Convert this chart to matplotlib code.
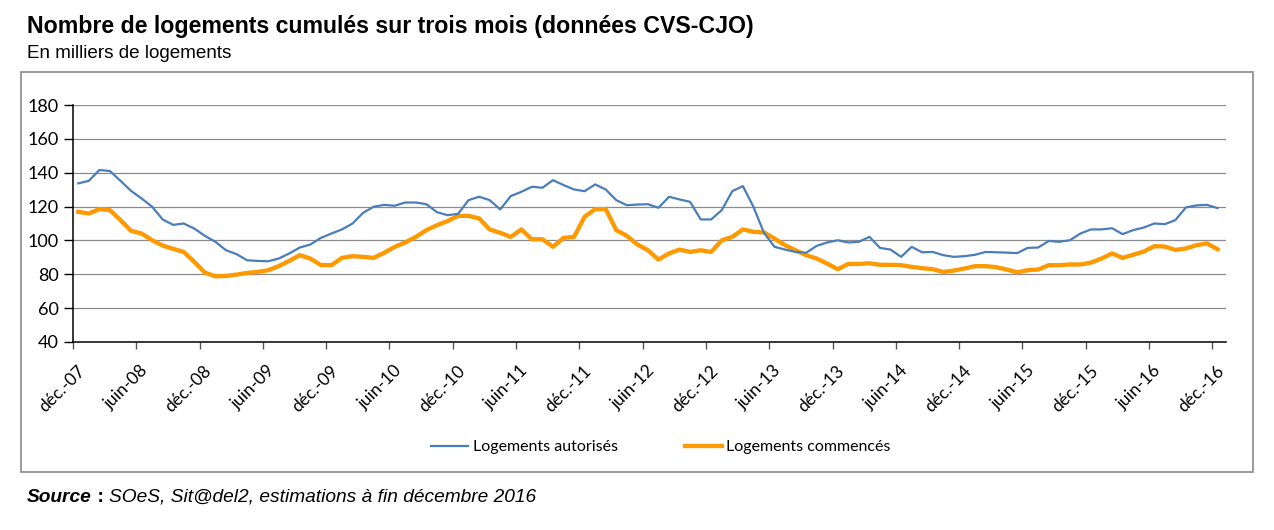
import matplotlib
matplotlib.use("Agg")
import matplotlib.pyplot as plt
from matplotlib.patches import Rectangle
from matplotlib.transforms import ScaledTranslation
import numpy as np

# tick labels every 6 months, déc.-07 .. déc.-16
tick_labels = ["déc.-07", "juin-08", "déc.-08", "juin-09", "déc.-09", "juin-10",
               "déc.-10", "juin-11", "déc.-11", "juin-12", "déc.-12", "juin-13",
               "déc.-13", "juin-14", "déc.-14", "juin-15", "déc.-15", "juin-16",
               "déc.-16"]

# monthly values, déc. 2007 -> déc. 2016 (thousands)
autorises = [133.7, 135.2, 141.6, 141.0, 135.2, 129.3, 124.8, 119.9, 112.4, 109.2,
             110.0, 107.0, 102.7, 99.2, 94.2, 91.9, 88.3, 87.9, 87.7, 89.3,
             92.3, 95.8, 97.6, 101.5, 104.1, 106.5, 110.0, 116.3, 119.9, 121.0,
             120.5, 122.4, 122.4, 121.4, 116.7, 114.9, 115.7, 123.8, 125.8, 123.8,
             118.3, 126.2, 128.7, 131.7, 131.1, 135.6, 132.7, 130.1, 129.1, 133.1,
             130.1, 123.8, 120.8, 121.2, 121.4, 119.3, 125.8, 124.2, 122.8, 112.4,
             112.4, 117.9, 129.1, 132.1, 119.9, 104.5, 96.2, 94.6, 93.2, 92.7,
             96.8, 98.8, 100.1, 98.8, 99.2, 102.1, 95.6, 94.6, 90.3, 96.2,
             93.0, 93.2, 91.3, 90.3, 90.7, 91.5, 93.2, 93.0, 92.8, 92.5,
             95.6, 95.8, 99.7, 99.2, 100.1, 104.1, 106.5, 106.5, 107.2, 103.7,
             106.1, 107.6, 110.0, 109.6, 112.0, 119.5, 120.7, 121.0, 119.1]

commences = [116.9, 115.9, 118.5, 117.9, 112.0, 105.7, 104.1, 100.1, 97.0, 95.0,
             93.2, 87.3, 81.0, 78.8, 79.0, 79.8, 80.8, 81.4, 82.4, 84.8,
             87.9, 91.3, 89.3, 85.4, 85.4, 89.7, 90.7, 90.3, 89.7, 92.7,
             96.2, 98.8, 102.1, 106.1, 109.0, 111.4, 114.5, 114.5, 113.0, 106.5,
             104.5, 102.1, 106.5, 100.7, 100.7, 96.2, 101.5, 102.1, 114.0, 118.5,
             118.5, 106.1, 102.7, 97.6, 94.2, 88.7, 92.3, 94.6, 93.2, 94.2,
             93.2, 100.1, 102.1, 106.5, 105.1, 104.7, 101.1, 97.2, 94.2, 91.3,
             89.3, 86.3, 83.0, 86.1, 86.1, 86.5, 85.6, 85.6, 85.4, 84.4,
             83.6, 83.0, 81.4, 82.2, 83.4, 84.8, 84.8, 84.2, 82.8, 81.2,
             82.4, 82.8, 85.4, 85.4, 85.8, 85.8, 86.9, 89.3, 92.3, 89.7,
             91.5, 93.4, 96.6, 96.4, 94.4, 95.2, 97.2, 98.2, 94.8]

n = len(autorises)
x = np.arange(n) + 0.5
tick_pos = np.arange(0, n, 6)

W, H = 1274, 530
fig = plt.figure(figsize=(W / 100, H / 100), dpi=100, facecolor="white")
fam_axis = ["Lato", "DejaVu Sans"]
fam_text = ["Liberation Sans", "DejaVu Sans"]

# outer frame of the chart
fig.patches.append(Rectangle((21 / W, 1 - 472 / H), (1253 - 21) / W, (472 - 72) / H,
                             transform=fig.transFigure, fill=False,
                             edgecolor="#8a8a8a", linewidth=1.2))

ax = fig.add_axes([73 / W, 1 - 342 / H, (1226 - 73) / W, (342 - 105) / H])

ax.plot(x, autorises, color="#4a7ebb", linewidth=1.6, label="Logements autorisés",
        zorder=4)
ax.plot(x, commences, color="#ff9900", linewidth=3.1, label="Logements commencés",
        zorder=3)

ax.set_xlim(0, n + 0.3)
ax.set_ylim(40, 180)
ax.set_yticks(np.arange(40, 181, 20))
for v in range(60, 181, 20):
    ax.axhline(v, color="#8c8c8c", linewidth=0.9, zorder=1)

ax.set_xticks(tick_pos)
ax.set_xticklabels(tick_labels, rotation=45, ha="right", rotation_mode="anchor",
                   family=fam_axis, fontsize=12.5)
ax.tick_params(axis="x", length=5, width=1, color="#555555", pad=7)
ax.tick_params(axis="y", length=6.5, width=1, pad=4, labelsize=13)
for lab in ax.get_yticklabels():
    lab.set_family(fam_axis)
# nudge the rotated labels a little right and down
shift = ScaledTranslation(4 / 100, -4 / 100, fig.dpi_scale_trans)
for lab in ax.get_xticklabels():
    lab.set_transform(lab.get_transform() + shift)

for side in ["top", "right"]:
    ax.spines[side].set_visible(False)
ax.spines["left"].set_linewidth(1.1)
ax.spines["bottom"].set_linewidth(1.1)

fig.legend(loc="center", bbox_to_anchor=(661 / W, 1 - 447 / H), ncol=2,
           frameon=False, handlelength=2.3, handletextpad=0.3,
           columnspacing=4.2, prop={"family": fam_axis, "size": 11.5})

fig.text(27 / W, 1 - 27 / H,
         "Nombre de logements cumulés sur trois mois (données CVS-CJO)",
         ha="left", va="center", fontsize=16.7, fontweight="bold", family=fam_text)
fig.text(27 / W, 1 - 54 / H, "En milliers de logements", ha="left", va="center",
         fontsize=13.6, family=fam_text)

# source line: bold italic "Source", upright colon, italic rest
y_src = 1 - 497 / H
src = fig.text(27 / W, y_src, "Source", ha="left", va="center", fontsize=13.8,
               fontweight="bold", style="italic", family=fam_text)
fig.canvas.draw()
bb = src.get_window_extent()
colon = fig.text(bb.x1 / W, y_src, " : ", ha="left", va="center", fontsize=14,
                 fontweight="bold", family=fam_text)
fig.canvas.draw()
bb = colon.get_window_extent()
fig.text(bb.x1 / W, y_src, "SOeS, Sit@del2, estimations à fin décembre 2016",
         ha="left", va="center", fontsize=13.8, style="italic", family=fam_text)

fig.savefig("out.png", dpi=100, facecolor="white")
